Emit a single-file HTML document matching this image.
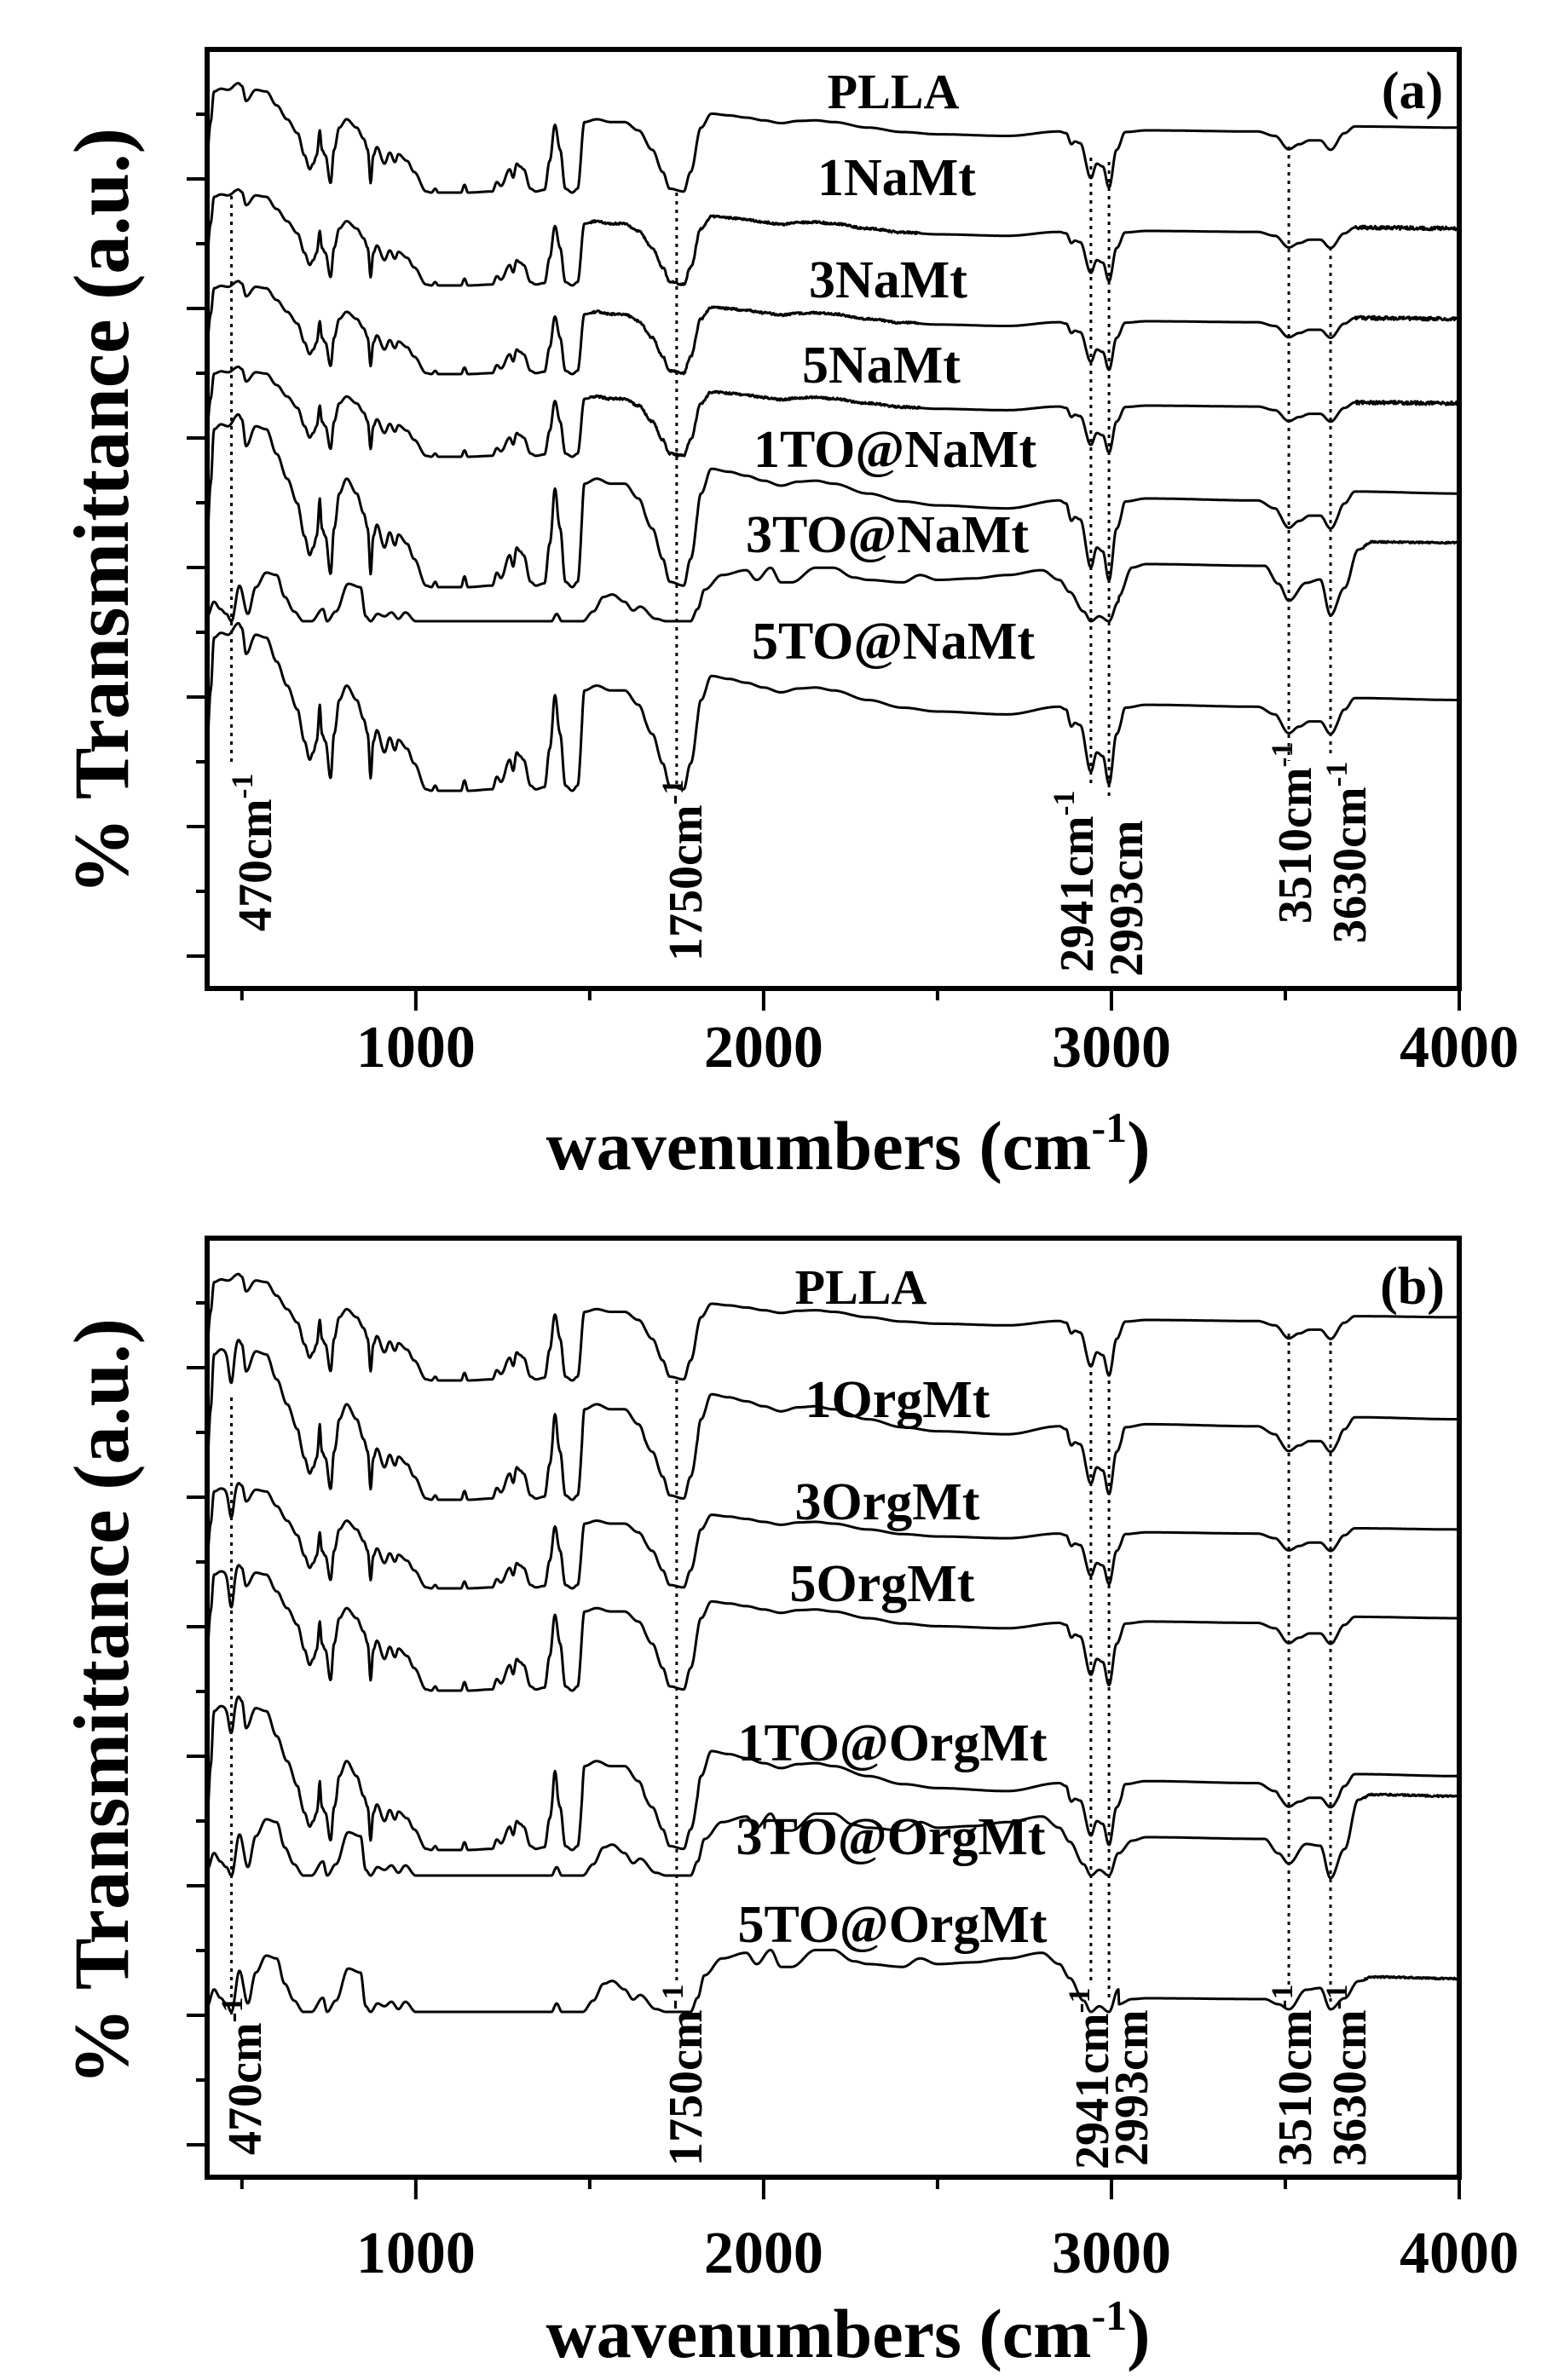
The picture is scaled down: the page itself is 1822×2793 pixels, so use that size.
<!DOCTYPE html>
<html><head><meta charset="utf-8">
<style>
html,body{margin:0;padding:0;background:#fff;}
svg{display:block;}
text{font-family:"Liberation Serif",serif;font-weight:bold;fill:#000;}
</style></head>
<body>
<svg id="s" width="1822" height="2793" viewBox="0 0 1822 2793" xmlns="http://www.w3.org/2000/svg">
<rect width="1822" height="2793" fill="#fff"/>
<g id="g"></g>
<text x="1048" y="127" font-size="58" text-anchor="middle">PLLA</text>
<text x="1052" y="229" font-size="62" text-anchor="middle">1NaMt</text>
<text x="1042" y="349" font-size="62" text-anchor="middle">3NaMt</text>
<text x="1034" y="449" font-size="62" text-anchor="middle">5NaMt</text>
<text x="1050" y="548" font-size="62" text-anchor="middle">1TO@NaMt</text>
<text x="1041" y="648" font-size="62" text-anchor="middle">3TO@NaMt</text>
<text x="1048" y="773" font-size="62" text-anchor="middle">5TO@NaMt</text>
<text x="1657" y="127" font-size="62" text-anchor="middle">(a)</text>
<text x="1010" y="1530" font-size="58" text-anchor="middle">PLLA</text>
<text x="1053" y="1663" font-size="62" text-anchor="middle">1OrgMt</text>
<text x="1041" y="1783" font-size="62" text-anchor="middle">3OrgMt</text>
<text x="1035" y="1879" font-size="62" text-anchor="middle">5OrgMt</text>
<text x="1047" y="2066" font-size="62" text-anchor="middle">1TO@OrgMt</text>
<text x="1045" y="2176" font-size="62" text-anchor="middle">3TO@OrgMt</text>
<text x="1047" y="2279" font-size="62" text-anchor="middle">5TO@OrgMt</text>
<text x="1657" y="1530" font-size="62" text-anchor="middle">(b)</text>
</svg>
<script>
(function(){
var NS="http://www.w3.org/2000/svg";
var g=document.getElementById('g');
function el(t,a,txt){var e=document.createElementNS(NS,t);for(var k in a)e.setAttribute(k,a[k]);if(txt!==undefined)e.textContent=txt;g.appendChild(e);return e;}
var L=243,R=1712;
function X(w){return L+(w-400)*(R-L)/3600;}
var P=[[400,0.3],[410,-0.3],[420,-0.85],[440,-0.9],[460,-0.88],[490,-1.0],[500,-0.95],[512,-0.68],[540,-0.88],[570,-0.85],[600,-0.6],[630,-0.35],[660,-0.1],[680,0.3],[695,0.55],[705,0.45],[715,0.3],[724,-0.15],[730,0.2],[740,0.3],[755,0.8],[765,0.2],[780,-0.2],[801,-0.35],[830,-0.2],[850,0.0],[862,0.2],[870,0.8],[878,0.3],[888,0.15],[910,0.45],[925,0.25],[940,0.42],[950,0.28],[975,0.4],[995,0.6],[1030,0.95],[1045,0.97],[1056,0.9],[1065,0.97],[1130,0.97],[1140,0.83],[1150,0.97],[1220,0.95],[1233,0.78],[1245,0.85],[1270,0.55],[1280,0.7],[1290,0.45],[1300,0.5],[1310,0.55],[1330,0.9],[1345,0.95],[1370,0.92],[1385,0.4],[1400,-0.25],[1415,0.2],[1430,0.9],[1450,0.97],[1465,0.9],[1485,-0.3],[1520,-0.35],[1560,-0.3],[1600,-0.3],[1640,-0.15],[1680,0.2],[1710,0.6],[1730,0.9],[1770,0.95],[1790,0.6],[1820,-0.2],[1850,-0.45],[1900,-0.42],[1950,-0.38],[2000,-0.33],[2050,-0.28],[2100,-0.32],[2150,-0.33],[2200,-0.3],[2300,-0.2],[2400,-0.12],[2500,-0.08],[2700,-0.05],[2850,-0.13],[2870,-0.1],[2885,0.1],[2895,0.05],[2910,0.08],[2941,0.71],[2958,0.45],[2975,0.5],[2993,0.88],[3015,0.2],[3040,-0.12],[3100,-0.15],[3420,-0.13],[3470,-0.05],[3510,0.19],[3540,0.1],[3570,0.03],[3600,0.03],[3630,0.2],[3670,-0.1],[3700,-0.22],[4000,-0.2]];
var F=[[400,0.9],[420,0.6],[438,0.75],[455,0.85],[470,1.0],[493,0.27],[517,0.85],[540,0.3],[570,0.0],[600,0.05],[623,0.5],[650,0.8],[677,1.0],[700,1.0],[733,0.75],[745,1.0],[770,0.8],[806,0.23],[841,0.3],[856,0.9],[870,1.0],[890,0.85],[910,0.9],[930,0.82],[950,0.95],[970,0.82],[1000,1.0],[1390,1.0],[1405,0.85],[1420,1.0],[1480,1.0],[1510,0.8],[1540,0.5],[1565,0.45],[1600,0.6],[1625,0.78],[1645,0.7],[1690,0.95],[1720,1.0],[1790,1.0],[1810,0.75],[1830,0.35],[1880,0.05],[1950,-0.05],[1980,0.15],[2020,-0.1],[2050,0.2],[2080,0.2],[2150,-0.1],[2200,-0.1],[2260,0.1],[2300,0.15],[2400,0.2],[2450,0.05],[2500,0.15],[2600,0.12],[2700,0.05],[2800,-0.05],[2850,0.15],[2880,0.4],[2920,0.8],[2941,1.0],[2965,0.9],[2993,1.0],[3020,0.6]];
function interp(T,w){for(var i=1;i<T.length;i++){if(w<=T[i][0]){var a=T[i-1],b=T[i];var t=(w-a[0])/(b[0]-a[0]);t=(1-Math.cos(Math.PI*t))/2;return a[1]+(b[1]-a[1])*t;}}return T[T.length-1][1];}
function rnd(i,s){var x=Math.sin(i*12.9898+s*78.233)*43758.5453;return x-Math.floor(x);}
function curve(type,flat,trough,up,opt){
 opt=opt||{};var d="";var i=0;
 if(type==='P'){
  var amp=(trough-flat)/1.12,base=flat+0.15*amp;
  for(var w=400;w<=4000;w+=2,i++){
   var v=interp(P,w);if(v<0)v*=up;
   if(opt.d470)v+=opt.d470*Math.exp(-Math.pow((w-470)/10,2));
   var y=base+v*amp;
   if(opt.noise){var n=0;if(w>3700)n=(rnd(i,flat)-0.5)*4;else if(w>1500&&w<2450)n=(rnd(i,flat)-0.5)*2.5;y+=n;}
   y=Math.min(y,trough+2);
   d+=(i?"L":"M")+X(w).toFixed(1)+" "+y.toFixed(1);
  }
 }else{
  // flat = mid plateau level M, trough = T, opt.tail = absolute tail points
  var amp2=trough-flat;
  var tail=opt.tail;
  for(var w2=400;w2<=4000;w2+=2,i++){
   var y2;
   if(w2<=3020){y2=flat+interp(F,w2)*amp2;}
   else{y2=interp(tail,w2);if(w2>3720)y2+=(rnd(i,flat)-0.5)*2;}
   d+=(i?"L":"M")+X(w2).toFixed(1)+" "+y2.toFixed(1);
  }
 }
 el('path',{d:d,fill:'none',stroke:'#000','stroke-width':3,'stroke-linejoin':'round'});
}
function panel(top,bot,tickY0,labelY,xlabY,ycen){
 el('rect',{x:L,y:top,width:R-L,height:bot-top,fill:'none',stroke:'#000','stroke-width':6});
 for(var k=-1;k<14;k++){var y=tickY0+k*76;if(y<=top+3||y>=bot-3)continue;var maj=(k%2===0);
  el('line',{x1:L,x2:L-(maj?24:13),y1:y,y2:y,stroke:'#000','stroke-width':4});}
 for(var w=500;w<=4000;w+=500){var maj2=(w%1000===0);
  el('line',{x1:X(w),x2:X(w),y1:bot,y2:bot+(maj2?26:14),stroke:'#000','stroke-width':4});
  if(maj2)el('text',{x:X(w),y:labelY,'font-size':70,'text-anchor':'middle'},String(w));}
 var t=el('text',{x:995,y:xlabY,'font-size':82,'text-anchor':'middle'});
 t.textContent="wavenumbers (cm";
 var ts=document.createElementNS(NS,'tspan');ts.setAttribute('dy','-32');ts.setAttribute('font-size','50');ts.textContent="-1";t.appendChild(ts);
 var ts2=document.createElementNS(NS,'tspan');ts2.setAttribute('dy','32');ts2.textContent=")";t.appendChild(ts2);
 el('text',{x:0,y:0,'font-size':92,'text-anchor':'middle',transform:'translate(150,'+ycen+') rotate(-90)',textLength:900,lengthAdjust:'spacingAndGlyphs'},"% Transmittance (a.u.)");
}
panel(58,1160,210,1252,1372,600);
panel(1453,2555,1605,2667,2766,1997);
function dl(w,y1,y2){el('line',{x1:X(w),x2:X(w),y1:y1,y2:y2,stroke:'#000','stroke-width':3,'stroke-dasharray':'4 6'});}
dl(470,230,895);dl(1750,226,920);dl(2941,185,925);dl(2993,190,940);dl(3510,172,893);dl(3630,290,888);
dl(470,1640,2365);dl(1750,1620,2325);dl(2941,1600,2330);dl(2993,1610,2350);dl(3510,1565,2335);dl(3630,1575,2355);
function ann(x,ybot,txt){var t=el('text',{x:0,y:0,'font-size':56,transform:'translate('+(x+20)+','+ybot+') rotate(-90)'});t.textContent=txt;
 var s=document.createElementNS(NS,'tspan');s.setAttribute('dy','-22');s.setAttribute('font-size','36');s.textContent="-1";t.appendChild(s);}
function ann2(x,ybot,txt){el('text',{x:0,y:0,'font-size':56,transform:'translate('+(x+20)+','+ybot+') rotate(-90)'},txt);}
ann(298,1093,"470cm");ann(803,1128,"1750cm");ann(1262,1141,"2941cm");ann2(1320,1146,"2993cm");ann(1518,1084,"3510cm");ann(1582,1107,"3630cm");
ann(286,2529,"470cm");ann(803,2542,"1750cm");ann(1280,2546,"2941cm");ann2(1326,2542,"2993cm");ann(1518,2542,"3510cm");ann(1582,2542,"3630cm");
// panel a
curve('P',153,226,1.0);
curve('P',271,335,1.0,{noise:1});
curve('P',377,439,1.0,{noise:1});
curve('P',476,536,1.0,{noise:1});
curve('P',589,689,1.3);
curve('F',672,729,0,{tail:[[3020,700],[3060,666],[3100,662],[3440,664],[3480,685],[3510,705],[3560,684],[3600,680],[3630,722],[3670,690],[3710,645],[3750,636],[4000,637]]});
curve('P',831,928,1.3);
// panel b
curve('P',1549,1620,1.0);
curve('P',1678,1760,1.6,{d470:0.55});
curve('P',1800,1864,1.2,{d470:0.6});
curve('P',1904,1984,1.1,{d470:0.6});
curve('P',2098,2171,1.8,{d470:0.5});
curve('F',2135,2201,0,{tail:[[3020,2175],[3060,2160],[3100,2156],[3440,2158],[3480,2175],[3510,2187],[3560,2164],[3600,2166],[3630,2204],[3670,2170],[3710,2112],[3750,2106],[4000,2108]]});
curve('F',2295,2361,0,{tail:[[3020,2352],[3060,2346],[3100,2345],[3440,2346],[3480,2352],[3510,2358],[3560,2335],[3600,2333],[3630,2358],[3670,2345],[3710,2325],[3750,2320],[4000,2322]]});
})();
</script>
</body></html>
